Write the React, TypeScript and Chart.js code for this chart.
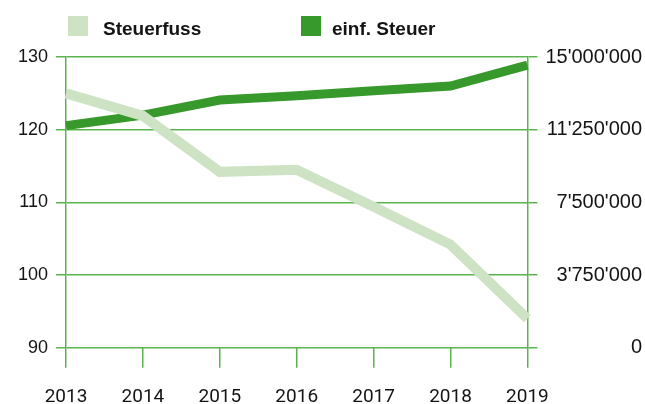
import React, { useEffect, useRef } from "react";
import { Chart, registerables } from "chart.js";

Chart.register(...registerables);

const years = ["2013", "2014", "2015", "2016", "2017", "2018", "2019"];
const steuerfuss = [125.0, 121.9, 114.2, 114.5, 109.4, 104.2, 94.0];
const einfSteuer = [11460000, 12000000, 12780000, 13000000, 13260000, 13500000, 14580000];
const seriesLabels = ["Steuerfuss", "einf. Steuer"];

const LIGHT = "#cde3c4";
const DARK = "#37982c";
const GRID = "#5ab44e";
const TEXT = "#141414";

const fmtApos = (v: number) =>
  Math.round(v).toString().replace(/\B(?=(\d{3})+(?!\d))/g, "'");

const legendBoxX = [68, 301];
const legendTextX = [103, 332];

const customLegend = {
  id: "customLegend",
  afterDraw(chart: any) {
    const ctx = chart.ctx;
    ctx.save();
    chart.data.datasets.forEach((ds: any, i: number) => {
      ctx.fillStyle = ds.borderColor;
      ctx.fillRect(legendBoxX[i], 16, 20, 20);
      ctx.fillStyle = TEXT;
      ctx.font = 'bold 19px "Liberation Sans", Arial, sans-serif';
      ctx.textBaseline = "alphabetic";
      ctx.textAlign = "left";
      ctx.fillText(ds.label, legendTextX[i], 35);
    });
    ctx.restore();
  },
};

export default function App() {
  const ref = useRef<HTMLCanvasElement | null>(null);

  useEffect(() => {
    if (!ref.current) return;
    const chart = new Chart(ref.current, {
      type: "line",
      data: {
        labels: years,
        datasets: [
          {
            label: seriesLabels[0],
            data: steuerfuss,
            yAxisID: "y",
            borderColor: LIGHT,
            backgroundColor: LIGHT,
            borderWidth: 10,
            pointRadius: 0,
            tension: 0,
          },
          {
            label: seriesLabels[1],
            data: einfSteuer,
            yAxisID: "y1",
            borderColor: DARK,
            backgroundColor: DARK,
            borderWidth: 9,
            pointRadius: 0,
            tension: 0,
          },
        ],
      },
      options: {
        responsive: false,
        animation: false,
        layout: { padding: { top: 57, left: 10, right: 3, bottom: -22 } },
        plugins: {
          legend: { display: false },
          tooltip: { enabled: false },
        },
        scales: {
          x: {
            type: "category",
            offset: false,
            grid: {
              drawOnChartArea: false,
              drawTicks: true,
              tickLength: 20,
              color: GRID,
              lineWidth: 1.5,
            },
            border: { display: false },
            ticks: {
              color: TEXT,
              padding: 21.5,
              font: { family: "Roboto, 'Liberation Sans', sans-serif", size: 19, lineHeight: 0.8 },
              maxRotation: 0,
            },
          },
          y: {
            position: "left",
            min: 90,
            max: 130,
            ticks: {
              stepSize: 10,
              color: TEXT,
              padding: 8,
              font: { family: "'Liberation Sans', Arial, sans-serif", size: 18 },
            },
            grid: { color: GRID, lineWidth: 1.5, tickLength: 10 },
            border: { display: true, color: GRID, width: 1.5 },
          },
          y1: {
            position: "right",
            min: 0,
            max: 15000000,
            ticks: {
              stepSize: 3750000,
              color: TEXT,
              padding: 4,
              crossAlign: "far",
              font: { family: "'Liberation Sans', Arial, sans-serif", size: 20 },
              callback: (v: any) => fmtApos(Number(v)),
            },
            grid: { drawOnChartArea: false, color: GRID, lineWidth: 1.5, tickLength: 10 },
            border: { display: true, color: GRID, width: 1.5 },
          },
        },
      },
      plugins: [customLegend],
    } as any);
    return () => chart.destroy();
  }, []);

  return (
    <div style={{ position: "absolute", left: 0, top: 0, width: 645, height: 404, background: "#fff" }}>
      <canvas ref={ref} width={645} height={404} />
    </div>
  );
}
